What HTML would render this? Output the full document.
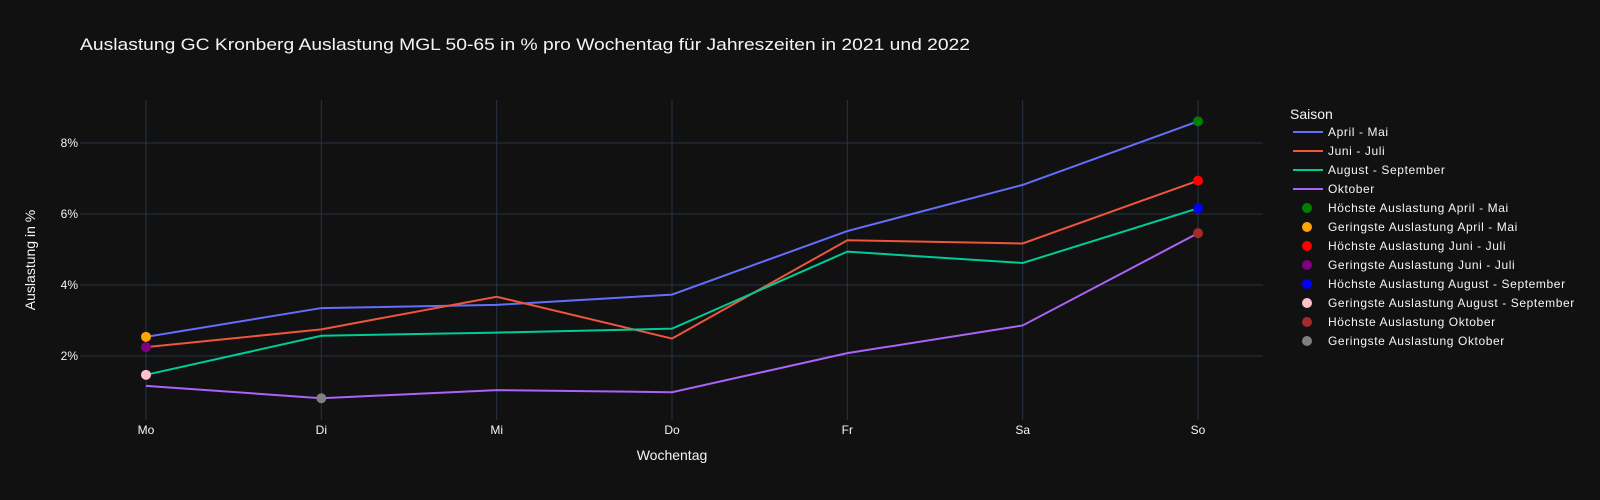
<!DOCTYPE html>
<html><head><meta charset="utf-8"><style>
body{margin:0;background:#111111;}
svg{display:block;font-family:"Liberation Sans","DejaVu Sans",sans-serif;}
</style></head><body>
<svg id="chart" width="1600" height="500">
<rect width="1600" height="500" fill="#111111"/>
<text x="80" y="50" fill="#f2f5fa" font-size="17" textLength="890" lengthAdjust="spacingAndGlyphs">Auslastung GC Kronberg Auslastung MGL 50-65 in % pro Wochentag für Jahreszeiten in 2021 und 2022</text>
<g id="grid"></g>
<g id="series"></g>
<g id="markers"></g>
<text x="672" y="460" fill="#f2f5fa" font-size="14" text-anchor="middle">Wochentag</text>
<text transform="translate(35,260) rotate(-90)" fill="#f2f5fa" font-size="14" text-anchor="middle">Auslastung in %</text>
<g id="legend"></g>
</svg>
<script>
const categories = ["Mo","Di","Mi","Do","Fr","Sa","So"];
const seriesNames = ["April - Mai","Juni - Juli","August - September","Oktober"];
const aprilMai = [2.54,3.35,3.44,3.73,5.52,6.82,8.61];
const juniJuli = [2.25,2.75,3.67,2.49,5.26,5.17,6.94];
const augSep = [1.47,2.57,2.66,2.77,4.94,4.62,6.16];
const oktober = [1.16,0.81,1.04,0.98,2.08,2.86,5.46];
const yTicks = [2,4,6,8];
const lineColors = ["#636efa","#ef553b","#00cc96","#ab63fa"];
const highColors = ["green","red","blue","brown"];
const lowColors = ["orange","purple","pink","gray"];

const NS = "http://www.w3.org/2000/svg";
const plotL = 80, plotR = 1263, plotT = 100, plotB = 420;
function xPos(i){ return 146 + i * (1198 - 146) / 6; }
function yPos(v){ return 427 - v * 35.5; }
function mk(tag, attrs, parent){ const e = document.createElementNS(NS, tag); for (const k in attrs) e.setAttribute(k, attrs[k]); parent.appendChild(e); return e; }

const grid = document.getElementById("grid");
categories.forEach((c, i) => {
  const l = mk("line", {x1: xPos(i), x2: xPos(i), y1: plotT, y2: plotB, stroke: "#283442", "stroke-width": 1}, grid);
  
  
  const t = mk("text", {x: xPos(i), y: 425, fill: "#f2f5fa", "font-size": 12, "text-anchor": "middle", "dominant-baseline": "hanging"}, grid);
  t.textContent = c;
  
  
});
yTicks.forEach(v => {
  const l = mk("line", {x1: plotL, x2: plotR, y1: yPos(v), y2: yPos(v), stroke: "#283442", "stroke-width": 1}, grid);
  
  
  const t = mk("text", {x: 78, y: yPos(v) + 4, fill: "#f2f5fa", "font-size": 12, "text-anchor": "end"}, grid);
  t.textContent = v + "%";
  
  
});

const all = [aprilMai, juniJuli, augSep, oktober];
const sg = document.getElementById("series");
const mg = document.getElementById("markers");
all.forEach((vals, s) => {
  const p = mk("polyline", {points: vals.map((v, i) => xPos(i) + "," + yPos(v)).join(" "), fill: "none", stroke: lineColors[s], "stroke-width": 2}, sg);
  
  
});
all.forEach((vals, s) => {
  const hi = vals.indexOf(Math.max(...vals));
  const lo = vals.indexOf(Math.min(...vals));
  const c1 = mk("circle", {cx: xPos(hi), cy: yPos(vals[hi]), r: 5, fill: highColors[s]}, mg);
  
  
  const c2 = mk("circle", {cx: xPos(lo), cy: yPos(vals[lo]), r: 5, fill: lowColors[s]}, mg);
  
  
});

const lg = document.getElementById("legend");
const lt = mk("text", {x: 1290, y: 119, fill: "#f2f5fa", "font-size": 14}, lg);
lt.textContent = "Saison";


let row = 0;
seriesNames.forEach((n, s) => {
  const y = 132 + row * 19;
  const l = mk("line", {x1: 1293, x2: 1323, y1: y, y2: y, stroke: lineColors[s], "stroke-width": 2}, lg);
  
  
  const t = mk("text", {x: 1328, y: y + 4, fill: "#f2f5fa", "font-size": 12, "letter-spacing": "0.6"}, lg);
  t.textContent = n;
  
  
  row++;
});
seriesNames.forEach((n, s) => {
  [["Höchste Auslastung ", highColors[s]], ["Geringste Auslastung ", lowColors[s]]].forEach(([pre, col]) => {
    const y = 132 + row * 19;
    const c = mk("circle", {cx: 1307, cy: y, r: 5, fill: col}, lg);
    
    
    const t = mk("text", {x: 1328, y: y + 4, fill: "#f2f5fa", "font-size": 12, "letter-spacing": "0.6"}, lg);
    t.textContent = pre + n;
    
    
    row++;
  });
});
</script>
</body></html>
